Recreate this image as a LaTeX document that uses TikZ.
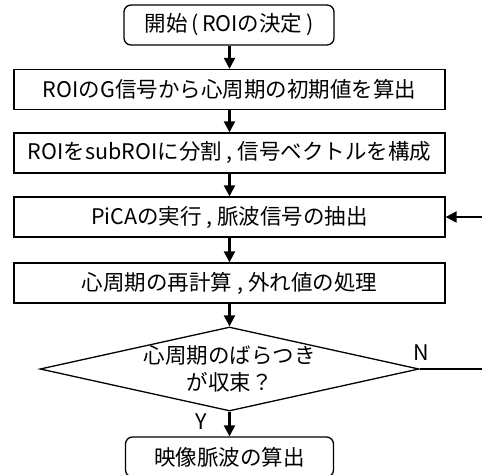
\documentclass[tikz,border=0pt]{standalone}
\usepackage{fontspec}
\setmainfont{Noto Sans CJK JP}
\usetikzlibrary{shapes.geometric,arrows.meta}
\begin{document}
\begin{tikzpicture}[x=1pt,y=-1pt,
  every node/.style={font=\fontsize{21.5pt}{27pt}\selectfont},
  procbox/.style={draw, line width=1.3pt, minimum height=40pt, minimum width=431pt, inner sep=0pt},
  termbox/.style={draw, line width=1.3pt, rounded corners=7pt, minimum width=210pt, minimum height=40pt, inner sep=0pt},
  decbox/.style={diamond, draw, line width=1.3pt, minimum width=379pt, minimum height=84pt, inner sep=0pt},
  arr/.style={line width=2.2pt, -{Triangle[length=11pt,width=11pt]}},
  fbline/.style={line width=2.2pt}]
\useasboundingbox (0,0) rectangle (482,474);
\clip (0,0) rectangle (482,474);
\node[termbox] (start) at (229,25) {開始\,(\,ROIの決定\,)};
\node[procbox] (b1) at (229.5,89.5) {ROIのG信号から心周期の初期値を算出};
\node[procbox] (b2) at (229.5,153) {ROIをsubROIに分割 , 信号ベクトルを構成};
\node[procbox] (b3) at (229.5,217) {PiCAの実行 , 脈波信号の抽出};
\node[procbox] (b4) at (229.5,283) {心周期の再計算 , 外れ値の処理};
\node[decbox] (dec) at (229.5,369) {};
\node[align=center, inner sep=0pt] (dtext) at (dec.center) {心周期のばらつき\\が収束？};
\node[termbox, minimum width=208pt] (end) at (229.5,457) {映像脈波の算出};
\node (nlab) at (421,353) {N};
\node (ylab) at (201,422) {Y};
\coordinate (nend) at (482,369);
\coordinate (fbin) at (482,217);
\draw[arr] (start.south -| b1.north) -- (b1.north);
\draw[arr] (b1) -- (b2);
\draw[arr] (b2) -- (b3);
\draw[arr] (b3) -- (b4);
\draw[arr] (b4.south) -- (dec.north);
\draw[arr] (dec.south) -- (end.north);
\draw[fbline] (dec.east) -- (nend);
\draw[arr] (fbin) -- (b3.east);
\end{tikzpicture}
\end{document}
